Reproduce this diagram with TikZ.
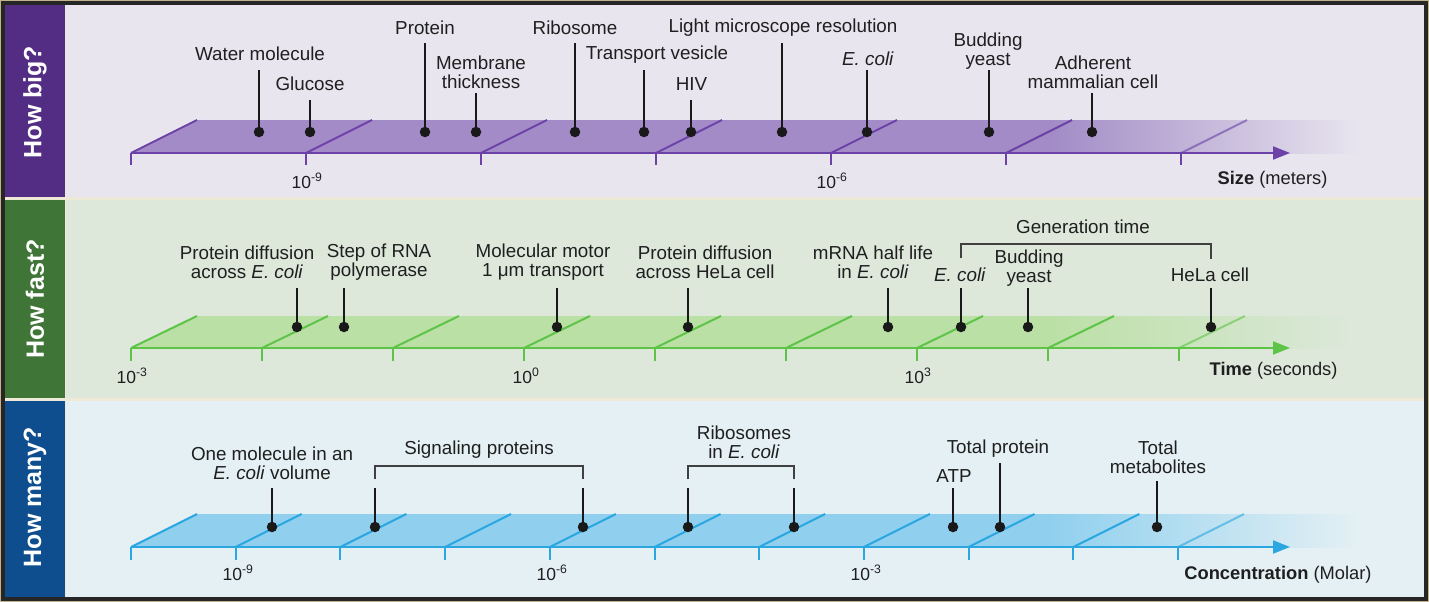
\documentclass[tikz,border=0pt]{standalone}
\usepackage{fontspec}
\setmainfont{Liberation Sans}
\usetikzlibrary{arrows.meta}

\definecolor{bigtab}{HTML}{522D83}
\definecolor{bigbg}{HTML}{E8E5EF}
\definecolor{bigband}{HTML}{A28BC6}
\definecolor{bigline}{HTML}{6C41A8}
\definecolor{fasttab}{HTML}{3F7536}
\definecolor{fastbg}{HTML}{DDE8DB}
\definecolor{fastband}{HTML}{BBE0A6}
\definecolor{fastline}{HTML}{5EC447}
\definecolor{manytab}{HTML}{0E4E8E}
\definecolor{manybg}{HTML}{E4F0F4}
\definecolor{manyband}{HTML}{90D0EE}
\definecolor{manyline}{HTML}{2AA7E1}
\definecolor{frame}{HTML}{C2B38C}
\definecolor{gap}{HTML}{EEE8D6}

\tikzstyle{lbl} = [font=\fontsize{18.8}{19}\selectfont, align=center, inner sep=0pt, text=black!88]
\tikzstyle{dot} = [circle, fill=black!90, inner sep=0pt, minimum size=10.5pt]
\tikzstyle{pin} = [line width=2.3pt, black!90]
\tikzstyle{bracket} = [line width=1.3pt, black!75]
\tikzstyle{tab} = [rotate=90, text=white, font=\fontsize{25}{28}\selectfont\bfseries]
\tikzstyle{pow} = [font=\fontsize{17.5}{18}\selectfont, anchor=base, text=black!88]
\tikzstyle{unit} = [font=\fontsize{18.3}{20}\selectfont, anchor=base east, text=black!88]
\tikzstyle{axis} = [line width=2pt, -{Triangle[length=17pt,width=13pt]}]
\tikzstyle{tickline} = [line width=2pt]

\newcommand{\ecoli}{\textit{E. coli}}

\begin{document}
\begin{tikzpicture}[x=1pt, y=-1pt]
\useasboundingbox (0,0) rectangle (1429,602);
\fill[frame] (0,0) rectangle (1429,602);
\fill[black!85] (1,1) rectangle (1428,601);
\fill[gap] (5,5) rectangle (1424,597);

% panels
\fill[bigtab] (5,5) rectangle (65,197);
\fill[bigbg] (66,5) rectangle (1424,197);
\fill[fasttab] (5,200) rectangle (65,398);
\fill[fastbg] (66,200) rectangle (1424,398);
\fill[manytab] (5,401) rectangle (65,597);
\fill[manybg] (66,401) rectangle (1424,597);

\node[tab] (tab1) at (35,102) {How big?};
\node[tab] (tab2) at (35,299) {How fast?};
\node[tab] (tab3) at (35,497) {How many?};

% size axis
\fill[bigband] (131,153) -- (197,120) -- (1050,120) -- (1050,153) -- cycle;
\shade[left color=bigband, middle color=bigband!65!bigbg, right color=bigbg] (1049.5,120) rectangle (1360,153);
\foreach \x in {131,306,...,1181} {
  \pgfmathsetmacro\op{min(1,(1330-\x)/250)}
  \draw[tickline, bigline, opacity=\op] (\x,153) -- ++(66,-33);
  \draw[tickline, bigline] (\x,153) -- (\x,165);
}
\draw[axis, bigline] (131,153) -- (1290,153);

\node[pow] (p1) at (307,188) {10\textsuperscript{-9}};
\node[pow] (p2) at (832,188) {10\textsuperscript{-6}};
\node[unit] (u1) at (1331,184) {\textbf{Size} (meters)};

\node[dot] (sd1) at (259,132) {};
\node[lbl] (s1) at (260,53.5) {Water molecule};
\draw[pin] (sd1) -- (sd1 |- 0,70);

\node[dot] (sd2) at (310,132) {};
\node[lbl] (s2) at (310,84) {Glucose};
\draw[pin] (sd2) -- (sd2 |- 0,100);

\node[dot] (sd3) at (425,132) {};
\node[lbl] (s3) at (425,27.5) {Protein};
\draw[pin] (sd3) -- (sd3 |- 0,43);

\node[dot] (sd4) at (476,132) {};
\node[lbl] (s4) at (481,72) {Membrane\\thickness};
\draw[pin] (sd4) -- (sd4 |- 0,93);

\node[dot] (sd5) at (575,132) {};
\node[lbl] (s5) at (575,27.5) {Ribosome};
\draw[pin] (sd5) -- (sd5 |- 0,43);

\node[dot] (sd6) at (644,132) {};
\node[lbl] (s6) at (657,54.5) {Transport vesicle};
\draw[pin] (sd6) -- (sd6 |- 0,70);

\node[dot] (sd7) at (691,132) {};
\node[lbl] (s7) at (691.5,84) {HIV};
\draw[pin] (sd7) -- (sd7 |- 0,100);

\node[dot] (sd8) at (782,132) {};
\node[lbl] (s8) at (783,27.5) {Light microscope resolution};
\draw[pin] (sd8) -- (sd8 |- 0,43);

\node[dot] (sd9) at (867,132) {};
\node[lbl] (s9) at (868,58.5) {\ecoli};
\draw[pin] (sd9) -- (sd9 |- 0,70);

\node[dot] (sd10) at (989,132) {};
\node[lbl] (s10) at (988,51.5) {Budding\\yeast};
\draw[pin] (sd10) -- (sd10 |- 0,70);

\node[dot] (sd11) at (1092,132) {};
\node[lbl] (s11) at (1093,72) {Adherent\\mammalian cell};
\draw[pin] (sd11) -- (sd11 |- 0,93);

% time axis
\fill[fastband] (131,348) -- (197,316) -- (1050,316) -- (1050,348) -- cycle;
\shade[left color=fastband, middle color=fastband!65!fastbg, right color=fastbg] (1049.5,316) rectangle (1360,348);
\foreach \x in {131,262,...,1179} {
  \pgfmathsetmacro\op{min(1,(1330-\x)/250)}
  \draw[tickline, fastline, opacity=\op] (\x,348) -- ++(66,-32);
  \draw[tickline, fastline] (\x,348) -- (\x,361);
}
\draw[axis, fastline] (131,348) -- (1290,348);

\node[pow] (p3) at (132,383) {10\textsuperscript{-3}};
\node[pow] (p4) at (526,383) {10\textsuperscript{0}};
\node[pow] (p5) at (918,383) {10\textsuperscript{3}};
\node[unit] (u2) at (1341,375) {\textbf{Time} (seconds)};

\node[dot] (td1) at (297,327) {};
\node[lbl] (t1) at (247,262) {Protein diffusion\\across \ecoli};
\draw[pin] (td1) -- (td1 |- 0,288);

\node[dot] (td2) at (344,327) {};
\node[lbl] (t2) at (379,262) {Step of RNA\\polymerase};
\draw[pin] (td2) -- (td2 |- 0,288);

\node[dot] (td3) at (557,327) {};
\node[lbl] (t3) at (543,262) {Molecular motor\\1 μm transport};
\draw[pin] (td3) -- (td3 |- 0,288);

\node[dot] (td4) at (688,327) {};
\node[lbl] (t4) at (705,262) {Protein diffusion\\across HeLa cell};
\draw[pin] (td4) -- (td4 |- 0,288);

\node[dot] (td5) at (888,327) {};
\node[lbl] (t5) at (873,262) {mRNA half life\\in \ecoli};
\draw[pin] (td5) -- (td5 |- 0,288);

\node[dot] (td6) at (961,327) {};
\node[lbl] (t6) at (960,274.5) {\ecoli};
\draw[pin] (td6) -- (td6 |- 0,288);

\node[dot] (td7) at (1028,327) {};
\node[lbl] (t7) at (1029,268) {Budding\\yeast};
\draw[pin] (td7) -- (td7 |- 0,288);

\node[dot] (td8) at (1211,327) {};
\node[lbl] (t8) at (1210,274.5) {HeLa cell};
\draw[pin] (td8) -- (td8 |- 0,288);

\node[lbl] (gen) at (1083,226.5) {Generation time};
\draw[bracket] (td6 |- 0,258) -- (td6 |- 0,244) -- (td8 |- 0,244) -- (td8 |- 0,259);

% concentration axis
\fill[manyband] (131,547) -- (197,514) -- (1050,514) -- (1050,547) -- cycle;
\shade[left color=manyband, middle color=manyband!65!manybg, right color=manybg] (1049.5,514) rectangle (1360,547);
\foreach \x in {131,235.7,...,1180} {
  \pgfmathsetmacro\op{min(1,(1330-\x)/250)}
  \draw[tickline, manyline, opacity=\op] (\x,547) -- ++(66,-33);
  \draw[tickline, manyline] (\x,547) -- (\x,560);
}
\draw[axis, manyline] (131,547) -- (1290,547);

\node[pow] (p6) at (238,580) {10\textsuperscript{-9}};
\node[pow] (p7) at (552,580) {10\textsuperscript{-6}};
\node[pow] (p8) at (866,580) {10\textsuperscript{-3}};
\node[unit] (u3) at (1375,579) {\textbf{Concentration} (Molar)};

\node[dot] (cd1) at (272,527) {};
\node[lbl] (c1) at (272,463) {One molecule in an\\\ecoli{} volume};
\draw[pin] (cd1) -- (cd1 |- 0,488);

\node[dot] (cd2) at (375,527) {};
\node[dot] (cd3) at (583,527) {};
\node[lbl] (c2) at (479,450) {Signaling proteins};
\draw[pin] (cd2) -- (cd2 |- 0,488);
\draw[pin] (cd3) -- (cd3 |- 0,488);
\draw[bracket] (cd2 |- 0,479) -- (cd2 |- 0,466) -- (cd3 |- 0,466) -- (cd3 |- 0,479);

\node[dot] (cd4) at (688,527) {};
\node[dot] (cd5) at (794,527) {};
\node[lbl] (c3) at (744,442) {Ribosomes\\in \ecoli};
\draw[pin] (cd4) -- (cd4 |- 0,488);
\draw[pin] (cd5) -- (cd5 |- 0,488);
\draw[bracket] (cd4 |- 0,479) -- (cd4 |- 0,466) -- (cd5 |- 0,466) -- (cd5 |- 0,479);

\node[dot] (cd6) at (953,527) {};
\node[lbl] (c4) at (954,476.5) {ATP};
\draw[pin] (cd6) -- (cd6 |- 0,488);

\node[dot] (cd7) at (1000,527) {};
\node[lbl] (c5) at (998,449) {Total protein};
\draw[pin] (cd7) -- (cd7 |- 0,463);

\node[dot] (cd8) at (1157,527) {};
\node[lbl] (c6) at (1158,457.5) {Total\\metabolites};
\draw[pin] (cd8) -- (cd8 |- 0,481);
\end{tikzpicture}
\end{document}
